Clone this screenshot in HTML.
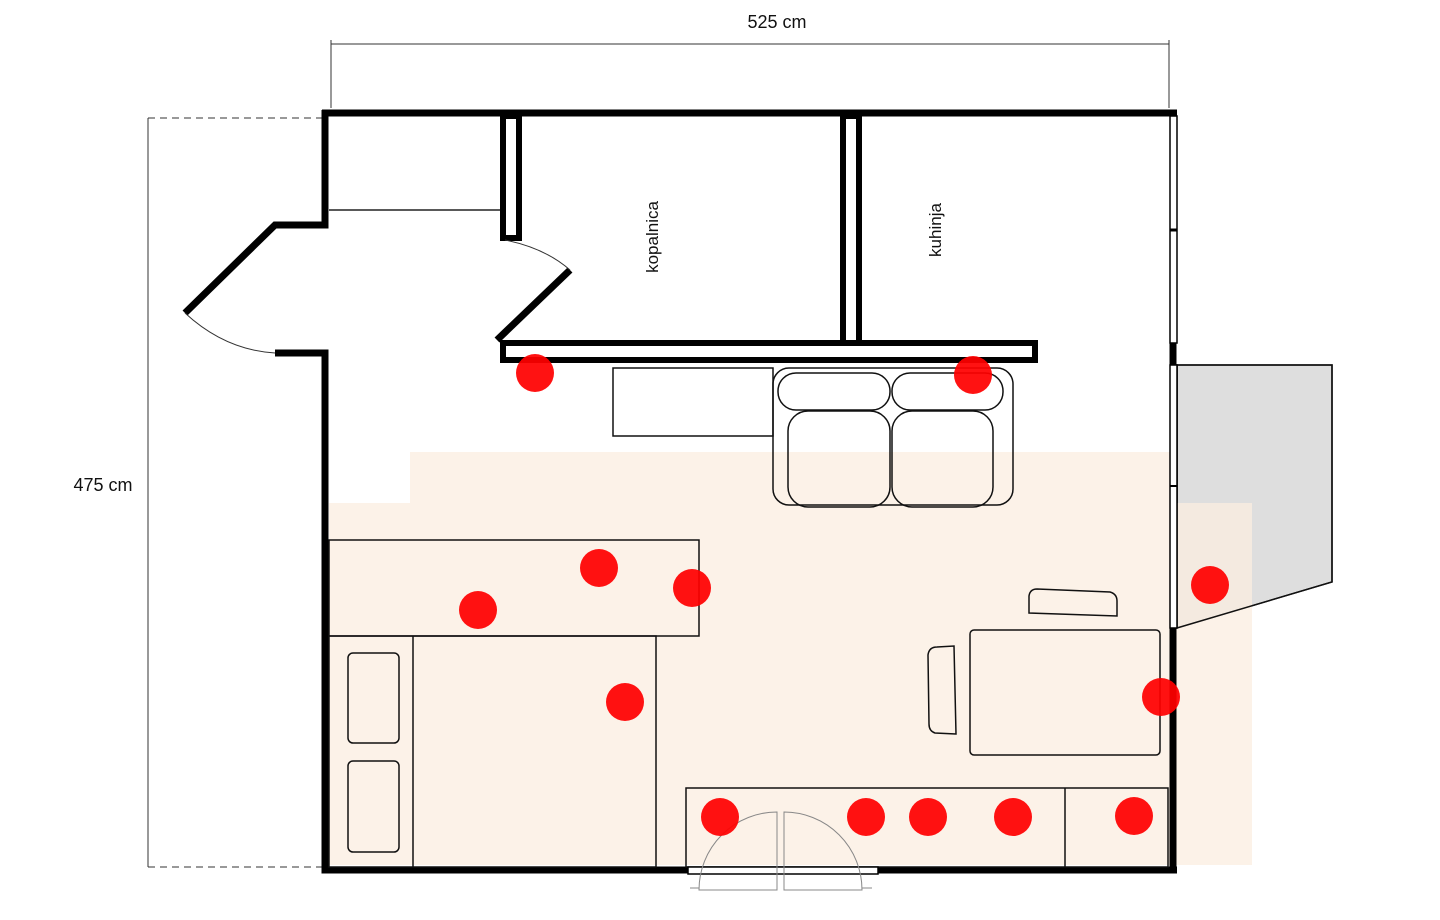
<!DOCTYPE html>
<html><head><meta charset="utf-8"><style>html,body{margin:0;padding:0;background:#fff}svg{display:block}</style></head>
<body>
<svg width="1440" height="920" viewBox="0 0 1440 920" xmlns="http://www.w3.org/2000/svg" font-family="Liberation Sans, sans-serif">
<!-- balcony -->
<polygon points="1177,365 1332,365 1332,582 1177,628" fill="#dedede" stroke="#111" stroke-width="1.5"/>
<!-- beige floor -->
<path d="M410 452 H1170 V503 H1252 V865 H329 V503 H410 Z" fill="#fbeee0" fill-opacity="0.75"/>
<polygon points="1177,365 1332,365 1332,582 1177,628" fill="none" stroke="#111" stroke-width="1.5"/>
<!-- dimensions -->
<g stroke="#333" stroke-width="1">
<line x1="331" y1="44" x2="1169" y2="44"/>
<line x1="331" y1="40" x2="331" y2="108"/>
<line x1="1169" y1="40" x2="1169" y2="108"/>
<line x1="148" y1="118" x2="148" y2="867"/>
<line x1="148" y1="118" x2="322" y2="118" stroke-dasharray="7,5"/>
<line x1="148" y1="867" x2="322" y2="867" stroke-dasharray="7,5"/>
</g>
<text x="777" y="28" font-size="18" text-anchor="middle" fill="#111">525 cm</text>
<text x="103" y="491" font-size="18" text-anchor="middle" fill="#111">475 cm</text>
<!-- walls -->
<g fill="none" stroke="#000" stroke-width="7" stroke-linejoin="miter">
<polyline points="322,113 1177,113"/>
<polyline points="325,110 325,225 275,225 185,313"/>
<polyline points="275,353 325,353 325,870 688,870"/>
<polyline points="878,870 1177,870"/>
<line x1="1173" y1="628" x2="1173" y2="870"/>
<line x1="1173" y1="343" x2="1173" y2="365"/>
</g>
<!-- right window -->
<g fill="#fff" stroke="#000" stroke-width="1.5">
<rect x="1170" y="116" width="7" height="227"/>
<rect x="1170" y="365" width="7" height="263"/>
</g>
<line x1="1170" y1="230" x2="1177" y2="230" stroke="#000" stroke-width="3"/>
<line x1="1170" y1="486" x2="1177" y2="486" stroke="#000" stroke-width="2"/>
<!-- inner walls -->
<g fill="#fff" stroke="#000" stroke-width="6">
<rect x="503" y="116" width="16" height="122"/>
<rect x="843" y="116" width="16" height="227"/>
<rect x="503" y="343" width="532" height="17"/>
</g>
<line x1="497" y1="340" x2="570" y2="270" stroke="#000" stroke-width="7"/>
<line x1="329" y1="210" x2="500" y2="210" stroke="#222" stroke-width="1.5"/>
<path d="M505 240 Q545 248 570 270" fill="none" stroke="#333" stroke-width="1"/>
<path d="M185 313 Q225 350 275 353" fill="none" stroke="#333" stroke-width="1"/>
<text transform="translate(658,237) rotate(-90)" font-size="17" text-anchor="middle" fill="#111">kopalnica</text>
<text transform="translate(941,230) rotate(-90)" font-size="17" text-anchor="middle" fill="#111">kuhinja</text>
<!-- furniture -->
<g fill="none" stroke="#111" stroke-width="1.5">
<rect x="613" y="368" width="160" height="68"/>
<rect x="773" y="368" width="240" height="137" rx="16"/>
<rect x="778" y="373" width="112" height="37" rx="18"/>
<rect x="892" y="373" width="111" height="37" rx="18"/>
<rect x="788" y="411" width="102" height="96" rx="20"/>
<rect x="892" y="411" width="101" height="96" rx="20"/>
<rect x="329" y="540" width="370" height="96"/>
<rect x="329" y="636" width="327" height="231"/>
<line x1="413" y1="636" x2="413" y2="867"/>
<rect x="348" y="653" width="51" height="90" rx="5"/>
<rect x="348" y="761" width="51" height="91" rx="5"/>
<rect x="686" y="788" width="482" height="79"/>
<line x1="1065" y1="788" x2="1065" y2="867"/>
<rect x="970" y="630" width="190" height="125" rx="4"/>
<path d="M1029 613 L1029 596 Q1030 589 1037 589 L1110 592 Q1117 594 1117 601 L1117 616 Z"/>
<path d="M956 734 L935 733 Q929 731 929 724 L928 655 Q929 647 937 647 L954 646 Z"/>
</g>
<!-- bottom door -->
<rect x="688" y="867" width="190" height="7" fill="#fff" stroke="#000" stroke-width="1.5"/>
<g fill="none" stroke="#888" stroke-width="1">
<path d="M777 812 A 78 78 0 0 0 699 890 H777 Z"/>
<path d="M784 812 A 78 78 0 0 1 862 890 H784 Z"/>
<line x1="690" y1="888" x2="699" y2="888"/>
<line x1="862" y1="888" x2="872" y2="888"/>
</g>
<!-- red dots -->
<g fill="#ff0000" fill-opacity="0.93">
<circle cx="535" cy="373" r="19"/>
<circle cx="973" cy="375" r="19"/>
<circle cx="599" cy="568" r="19"/>
<circle cx="692" cy="588" r="19"/>
<circle cx="478" cy="610" r="19"/>
<circle cx="625" cy="702" r="19"/>
<circle cx="1210" cy="585" r="19"/>
<circle cx="1161" cy="697" r="19"/>
<circle cx="720" cy="817" r="19"/>
<circle cx="866" cy="817" r="19"/>
<circle cx="928" cy="817" r="19"/>
<circle cx="1013" cy="817" r="19"/>
<circle cx="1134" cy="816" r="19"/>
</g>
</svg>
</body></html>
